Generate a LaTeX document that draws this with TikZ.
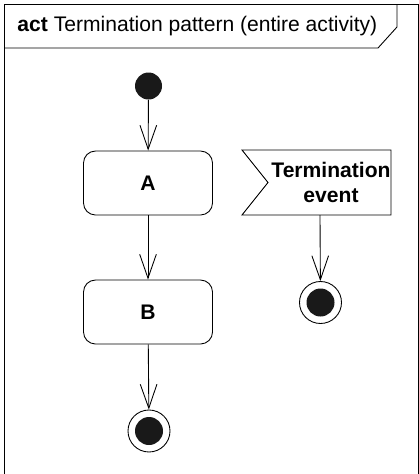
\documentclass[tikz,border=0pt]{standalone}
\usepackage{fontspec}
\setmainfont{Liberation Sans}
\usetikzlibrary{arrows.meta,positioning,calc}

\begin{document}
\begin{tikzpicture}[
  x=0.03cm, y=-0.03cm,
  line width=0.75pt,
  font=\fontsize{18}{22}\selectfont,
  action/.style={draw, rounded corners=0.36cm, minimum width=3.87cm, minimum height=1.92cm, font=\fontsize{18}{22}\selectfont\bfseries},
  initial/.style={circle, fill=black!90, inner sep=0pt, minimum size=0.81cm},
  final/.style={circle, draw, inner sep=0pt, minimum size=1.26cm,
    path picture={\fill[black!90] (path picture bounding box.center) circle (0.42cm);}},
  flow/.style={-{Straight Barb[length=0.72cm, width=0.5cm]}}
]
\useasboundingbox (0,0) rectangle (419,474);

% frame and name tab
\draw (4.5,474) -- (4.5,4) -- (418,4) -- (418,474);
\draw (4.5,48) -- (378,48) -- (397,27) -- (397,4);
\node[anchor=west, inner sep=0pt] (title) at (17,26) {\textbf{act} Termination pattern (entire activity)};

\node[initial] (start) at (148.5,86) {};
\node[action] (A) at (148,183) {A};
\node[action] (B) at (148,312) {B};
\node[final] (stop) at (149,431) {};

% accept event
\node[align=center, font=\fontsize{18}{22}\selectfont\bfseries] (evt) at (331,182.5) {Termination\\event};
\draw ($(evt)+(-89,-32.5)$) -- ($(evt)+(60,-32.5)$) -- ($(evt)+(60,32.5)$)
  -- ($(evt)+(-89,32.5)$) -- ($(evt)+(-63,0)$) -- cycle;
\coordinate (evtout) at ($(evt)+(-11,32.5)$);
\node[final] (evtstop) at (320.5,302.5) {};

\draw[flow] (start) -- (A);
\draw[flow] (A) -- (B);
\draw[flow] (B) -- (stop);
\draw[flow] (evtout) -- (evtstop);

\end{tikzpicture}
\end{document}
